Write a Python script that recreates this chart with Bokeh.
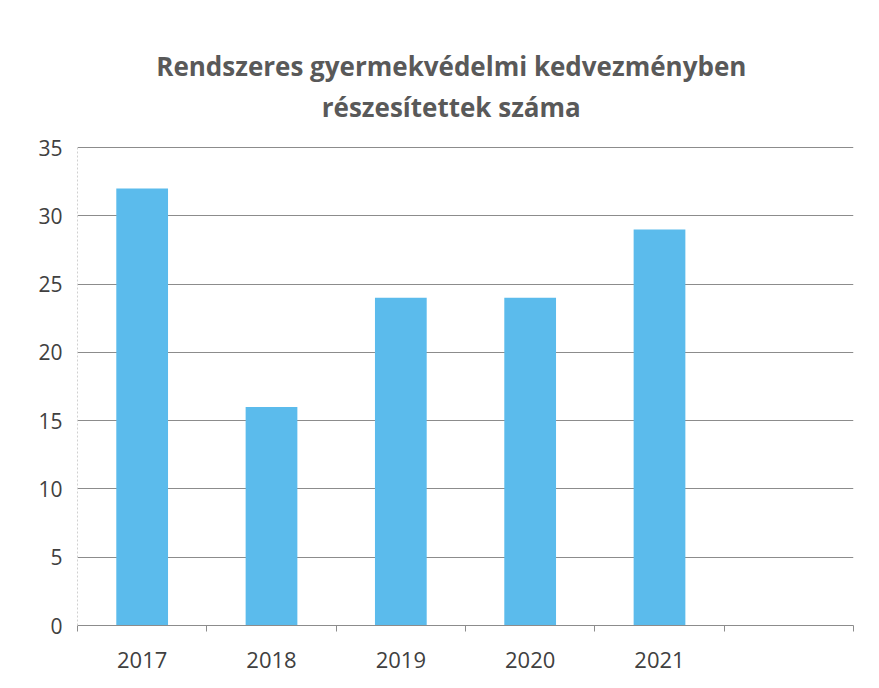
from bokeh.plotting import figure
from bokeh.models import Range1d, FixedTicker, ColumnDataSource
from bokeh.core.properties import value
from bokeh.embed import file_html
from bokeh.resources import INLINE

title_lines = ["Rendszeres gyermekvédelmi kedvezményben", "részesítettek száma"]
years = ["2017", "2018", "2019", "2020", "2021"]
values = [32, 16, 24, 24, 29]
n_slots = 6  # the chart reserves one empty slot after 2021
y_ticks = [0, 5, 10, 15, 20, 25, 30, 35]

xs = [i + 0.5 for i in range(len(years))]
src = ColumnDataSource(dict(x=xs, top=values, year=years))

# the frame extends above the value axis to hold the two-line heading
y_axis_max = y_ticks[-1]
y_frame_top = 44.3

p = figure(width=863, height=672, output_backend="svg", toolbar_location=None,
           x_range=Range1d(0, n_slots), y_range=Range1d(0, y_frame_top),
           min_border_left=77, min_border_right=10, min_border_top=20,
           min_border_bottom=47, title=None)
p.outline_line_color = None
p.background_fill_color = "white"
p.border_fill_color = "white"

p.vbar(x="x", top="top", width=0.4, bottom=0, source=src,
       fill_color="#5BBBEC", line_color=None)

# heading, centred over the chart
head = ColumnDataSource(dict(x=[2.89, 2.89], y=[41.0, 38.0], t=title_lines))
p.text(x="x", y="y", text="t", source=head, text_align="center",
       text_baseline="alphabetic", text_font=value("Open Sans"),
       text_font_style="bold", text_font_size="26px", text_color="#595959")

# x axis
xa = p.xaxis[0]
xa.ticker = FixedTicker(ticks=xs, minor_ticks=list(range(n_slots + 1)))
xa.major_label_overrides = {x: y for x, y in zip(xs, years)}
xa.major_tick_out = 0
xa.major_tick_in = 0
xa.minor_tick_out = 6
xa.minor_tick_in = 0
xa.minor_tick_line_color = "#8c8c8c"
xa.axis_line_color = "#8c8c8c"
xa.major_label_text_font = "Open Sans"
xa.major_label_text_font_size = "22px"
xa.major_label_text_color = "#404040"
xa.major_label_standoff = 20

# y axis
ya = p.yaxis[0]
ya.ticker = FixedTicker(ticks=y_ticks)
ya.bounds = (0, y_axis_max)
ya.minor_tick_line_color = None
ya.major_tick_out = 0
ya.major_tick_in = 0
ya.axis_line_color = "#d0d0d0"
ya.axis_line_dash = "2 2"
ya.major_label_text_font = "Open Sans"
ya.major_label_text_font_size = "21px"
ya.major_label_text_color = "#404040"
ya.major_label_standoff = 15

p.xgrid.grid_line_color = None
p.ygrid.grid_line_color = "#8c8c8c"
p.ygrid.grid_line_width = 1

open("out.html", "w").write(file_html(p, INLINE))
